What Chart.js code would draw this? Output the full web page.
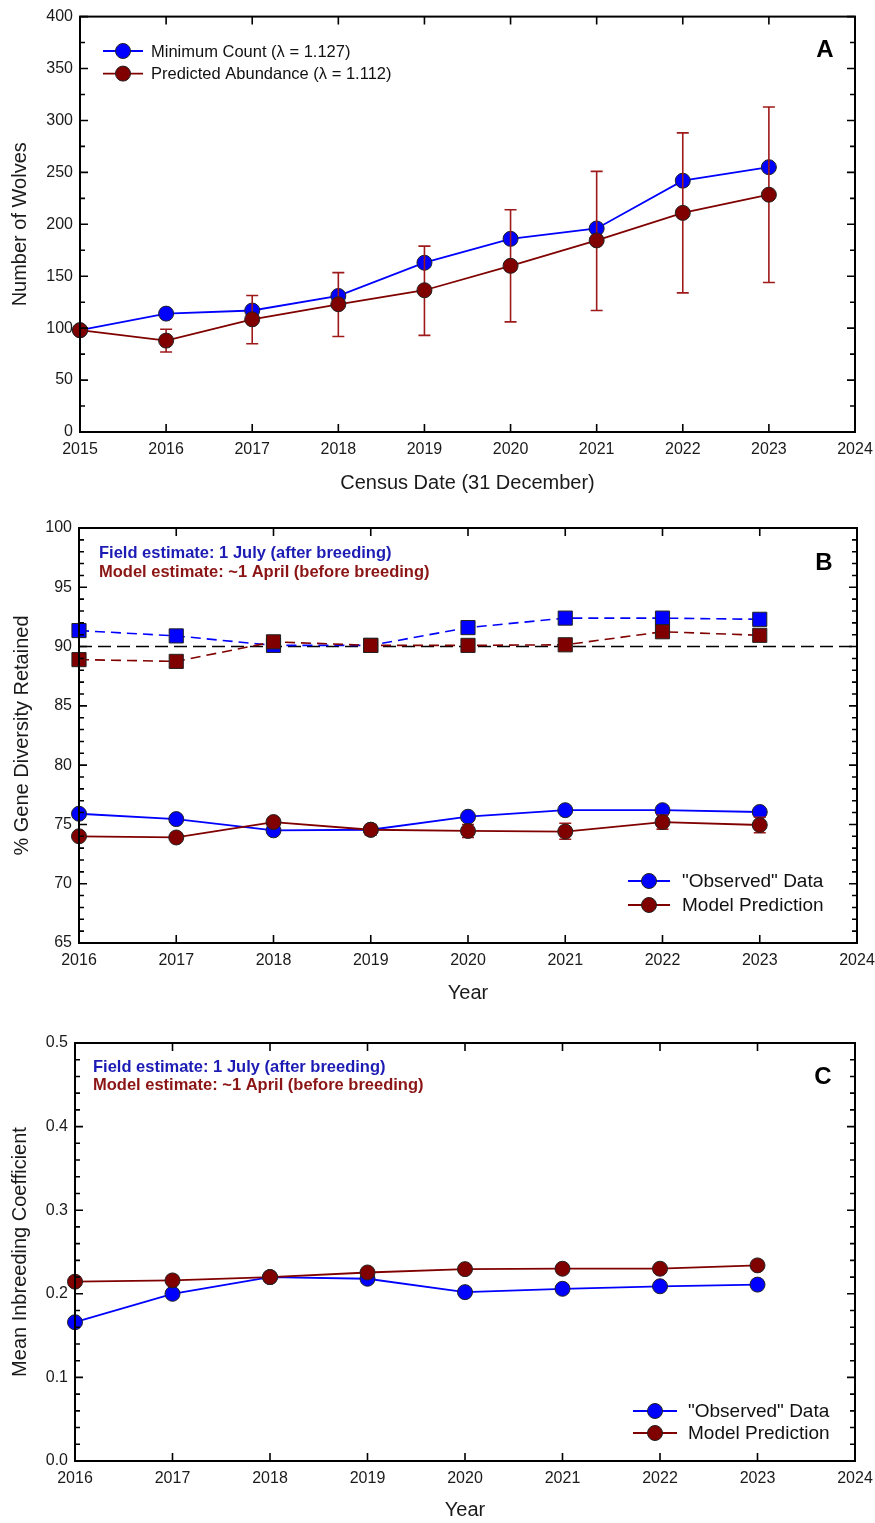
<!DOCTYPE html>
<html>
<head>
<meta charset="utf-8">
<script src="https://cdn.jsdelivr.net/npm/chart.js@4.4.1/dist/chart.umd.min.js"></script>
<style>
	body { margin: 0; background: #fff; }
	canvas { position: absolute; left: 0; }
</style>
</head>
<body>
<canvas id="chartA" width="875" height="505" style="top:0px"></canvas>
<canvas id="chartB" width="875" height="515" style="top:505px"></canvas>
<canvas id="chartC" width="875" height="503" style="top:1020px"></canvas>
<script>
// Panel A - wolf numbers
const yearsA = [2015, 2016, 2017, 2018, 2019, 2020, 2021, 2022, 2023];
const minimumCount = [98, 114, 117, 131, 163, 186, 196, 242, 255];
const predictedAbundance = [98, 88, 108.5, 123, 136.5, 160, 184.5, 211, 228.5];
const predictedLow = [null, 77, 85, 92, 93, 106, 117, 134, 144];
const predictedHigh = [null, 99, 131.5, 153.5, 179, 214, 251, 288, 313];

// Panel B - gene diversity
const yearsB = [2016, 2017, 2018, 2019, 2020, 2021, 2022, 2023];
const fieldGD = [91.35, 90.9, 90.1, 90.1, 91.6, 92.4, 92.4, 92.3];
const modelGD = [88.9, 88.75, 90.4, 90.1, 90.1, 90.15, 91.25, 90.95];
const observedGD = [75.9, 75.45, 74.5, 74.55, 75.65, 76.2, 76.2, 76.05];
const predictedGD = [74.0, 73.9, 75.2, 74.55, 74.45, 74.4, 75.2, 74.95];
const predictedGDLow = [null, null, null, 74.1, 73.9, 73.75, 74.6, 74.3];
const predictedGDHigh = [null, null, null, 75.0, 75.0, 75.1, 75.8, 75.6];
const refYears = [2016, 2024];
const refGD = [90, 90];

// Panel C - inbreeding
const yearsC = [2016, 2017, 2018, 2019, 2020, 2021, 2022, 2023];
const observedF = [0.166, 0.2, 0.22, 0.218, 0.202, 0.206, 0.209, 0.211];
const predictedF = [0.2145, 0.216, 0.22, 0.2255, 0.2295, 0.23, 0.23, 0.234];

const BLUE = '#0000ff';
const RED = '#800000';
const FONT = "'Liberation Sans', Arial, sans-serif";

Chart.defaults.font.family = FONT;
Chart.defaults.color = '#1a1a1a';

function pts(xs, ys) {
	return xs.map((x, i) => ({ x: x, y: ys[i] }));
}

function xAxis(min, max, title, h) {
	return {
		type: 'linear', min: min, max: max,
		grid: { display: false, drawTicks: false },
		border: { display: false },
		ticks: { stepSize: 1, autoSkip: false, maxRotation: 0, padding: 8, font: { size: 16 }, callback: v => String(v) },
		title: { display: true, text: title, font: { size: 20 }, padding: 0 },
		afterFit: s => {
			s.height = h;
			// let the end labels hang over the plot edges
			s.paddingLeft = 0;
			s.paddingRight = 0;
		}
	};
}

function yAxis(min, max, step, title, w, fmt) {
	return {
		type: 'linear', min: min, max: max,
		grid: { display: false, drawTicks: false },
		border: { display: false },
		ticks: { stepSize: step, padding: 7, font: { size: 16 }, callback: fmt || (v => String(v)) },
		title: { display: true, text: title, font: { size: 20 }, padding: 0 },
		afterFit: s => { s.width = w; }
	};
}

function circleSeries(label, xs, ys, color, order) {
	return {
		label: label, data: pts(xs, ys), order: order,
		borderColor: color, borderWidth: 1.8,
		pointBackgroundColor: color, pointBorderColor: '#222', pointBorderWidth: 1,
		pointRadius: 7.5, pointHoverRadius: 7.5, clip: false, tension: 0
	};
}

function squareSeries(label, xs, ys, color, order) {
	return {
		label: label, data: pts(xs, ys), order: order,
		borderColor: color, borderWidth: 1.6, borderDash: [10, 6],
		pointStyle: 'rect', pointBackgroundColor: color, pointBorderColor: '#222', pointBorderWidth: 1,
		pointRadius: 10, pointHoverRadius: 10, clip: false, tension: 0
	};
}

// box around the plot with inward ticks on all four sides
function frameTicks(minor) {
	return {
		id: 'frameTicks',
		afterDatasetsDraw(chart) {
			const { ctx, chartArea: a, scales: { x, y } } = chart;
			ctx.save();
			ctx.strokeStyle = '#000';
			ctx.lineWidth = 2;
			ctx.strokeRect(a.left, a.top, a.right - a.left, a.bottom - a.top);
			ctx.lineWidth = 1.6;
			ctx.beginPath();
			x.ticks.forEach(t => {
				const px = x.getPixelForValue(t.value);
				ctx.moveTo(px, a.bottom); ctx.lineTo(px, a.bottom - 8);
				ctx.moveTo(px, a.top); ctx.lineTo(px, a.top + 8);
			});
			const n = Math.round((y.max - y.min) / minor);
			const per = Math.round(y.options.ticks.stepSize / minor);
			for (let i = 0; i <= n; i++) {
				const py = y.getPixelForValue(y.min + i * minor);
				const len = i % per === 0 ? 8 : 5;
				ctx.moveTo(a.left, py); ctx.lineTo(a.left + len, py);
				ctx.moveTo(a.right, py); ctx.lineTo(a.right - len, py);
			}
			ctx.stroke();
			ctx.restore();
		}
	};
}

function errorBars(dsIndex, lows, highs, color) {
	return {
		id: 'errorBars',
		beforeDatasetDraw(chart, args) {
			if (args.index !== dsIndex) return;
			const { ctx, scales: { y } } = chart;
			const meta = chart.getDatasetMeta(dsIndex);
			ctx.save();
			ctx.strokeStyle = color;
			ctx.lineWidth = 1.6;
			ctx.beginPath();
			meta.data.forEach((pt, i) => {
				if (lows[i] == null) return;
				const y1 = y.getPixelForValue(lows[i]);
				const y2 = y.getPixelForValue(highs[i]);
				ctx.moveTo(pt.x, y1); ctx.lineTo(pt.x, y2);
				ctx.moveTo(pt.x - 6, y1); ctx.lineTo(pt.x + 6, y1);
				ctx.moveTo(pt.x - 6, y2); ctx.lineTo(pt.x + 6, y2);
			});
			ctx.stroke();
			ctx.restore();
		}
	};
}

// legend drawn inside the plot area, taken from the datasets
function innerLegend(x0, y0, rowH, lineLen, gap, size, indices) {
	return {
		id: 'innerLegend',
		afterDraw(chart) {
			const ctx = chart.ctx;
			ctx.save();
			indices.forEach((idx, k) => {
				const ds = chart.data.datasets[idx];
				const y = y0 + k * rowH;
				ctx.strokeStyle = ds.borderColor;
				ctx.lineWidth = ds.borderWidth;
				ctx.beginPath();
				ctx.moveTo(x0, y); ctx.lineTo(x0 + lineLen, y);
				ctx.stroke();
				ctx.beginPath();
				ctx.arc(x0 + lineLen / 2, y, ds.pointRadius, 0, Math.PI * 2);
				ctx.fillStyle = ds.pointBackgroundColor;
				ctx.fill();
				ctx.lineWidth = ds.pointBorderWidth;
				ctx.strokeStyle = ds.pointBorderColor;
				ctx.stroke();
				ctx.fillStyle = '#111';
				ctx.font = size + 'px ' + FONT;
				ctx.textAlign = 'left';
				ctx.textBaseline = 'middle';
				ctx.fillText(ds.label, x0 + lineLen + gap, y + 1);
			});
			ctx.restore();
		}
	};
}

function notes(items) {
	return {
		id: 'notes',
		afterDraw(chart) {
			const ctx = chart.ctx;
			ctx.save();
			items.forEach(n => {
				ctx.font = n.font;
				ctx.fillStyle = n.color;
				ctx.textAlign = n.align || 'left';
				ctx.textBaseline = 'alphabetic';
				ctx.fillText(n.text, n.x, n.y);
			});
			ctx.restore();
		}
	};
}

const baseOptions = {
	responsive: false,
	animation: false,
	events: [],
	plugins: { legend: { display: false }, tooltip: { enabled: false } }
};

// ---- Panel A
new Chart(document.getElementById('chartA'), {
	type: 'line',
	data: {
		datasets: [
			circleSeries('Minimum Count (\u03bb = 1.127)', yearsA, minimumCount, BLUE, 2),
			circleSeries('Predicted Abundance (\u03bb = 1.112)', yearsA, predictedAbundance, RED, 1)
		]
	},
	options: Object.assign({}, baseOptions, {
		layout: { padding: { top: 16, right: 20, left: 8, bottom: 10 } },
		scales: {
			x: xAxis(2015, 2024, 'Census Date (31 December)', 63),
			y: yAxis(0, 400, 50, 'Number of Wolves', 72)
		}
	}),
	plugins: [
		frameTicks(25),
		errorBars(1, predictedLow, predictedHigh, '#9e1a1a'),
		innerLegend(103, 51, 22.6, 40, 8, 16.5, [0, 1]),
		notes([{ text: 'A', x: 825, y: 57, font: 'bold 24px ' + FONT, color: '#000', align: 'center' }])
	]
});

// ---- Panel B
new Chart(document.getElementById('chartB'), {
	type: 'line',
	data: {
		datasets: [
			circleSeries('"Observed" Data', yearsB, observedGD, BLUE, 2),
			circleSeries('Model Prediction', yearsB, predictedGD, RED, 1),
			squareSeries('Field estimate', yearsB, fieldGD, BLUE, 4),
			squareSeries('Model estimate', yearsB, modelGD, RED, 3),
			{
				label: '90%', data: pts(refYears, refGD), order: 5,
				borderColor: '#000', borderWidth: 1.5, borderDash: [13, 6],
				pointRadius: 0, pointHoverRadius: 0
			}
		]
	},
	options: Object.assign({}, baseOptions, {
		layout: { padding: { top: 23, right: 18, left: 10, bottom: 15 } },
		scales: {
			x: xAxis(2016, 2024, 'Year', 62),
			y: yAxis(65, 100, 5, '% Gene Diversity Retained', 69)
		}
	}),
	plugins: [
		frameTicks(1),
		errorBars(1, predictedGDLow, predictedGDHigh, '#9e1a1a'),
		innerLegend(628, 376, 24, 42, 12, 19, [0, 1]),
		notes([
			{ text: 'B', x: 824, y: 65, font: 'bold 24px ' + FONT, color: '#000', align: 'center' },
			{ text: 'Field estimate: 1 July (after breeding)', x: 99, y: 53, font: 'bold 16.5px ' + FONT, color: '#1c1cb4' },
			{ text: 'Model estimate: ~1 April (before breeding)', x: 99, y: 72, font: 'bold 16.5px ' + FONT, color: '#8b1414' }
		])
	]
});

// ---- Panel C
new Chart(document.getElementById('chartC'), {
	type: 'line',
	data: {
		datasets: [
			circleSeries('"Observed" Data', yearsC, observedF, BLUE, 2),
			circleSeries('Model Prediction', yearsC, predictedF, RED, 1)
		]
	},
	options: Object.assign({}, baseOptions, {
		layout: { padding: { top: 23, right: 20, left: 8, bottom: 1 } },
		scales: {
			x: xAxis(2016, 2024, 'Year', 61),
			y: yAxis(0, 0.5, 0.1, 'Mean Inbreeding Coefficient', 67, v => v.toFixed(1))
		}
	}),
	plugins: [
		frameTicks(0.02),
		innerLegend(633, 391, 22, 44, 11, 19, [0, 1]),
		notes([
			{ text: 'C', x: 823, y: 64, font: 'bold 24px ' + FONT, color: '#000', align: 'center' },
			{ text: 'Field estimate: 1 July (after breeding)', x: 93, y: 52, font: 'bold 16.5px ' + FONT, color: '#1c1cb4' },
			{ text: 'Model estimate: ~1 April (before breeding)', x: 93, y: 70, font: 'bold 16.5px ' + FONT, color: '#8b1414' }
		])
	]
});
</script>
</body>
</html>
